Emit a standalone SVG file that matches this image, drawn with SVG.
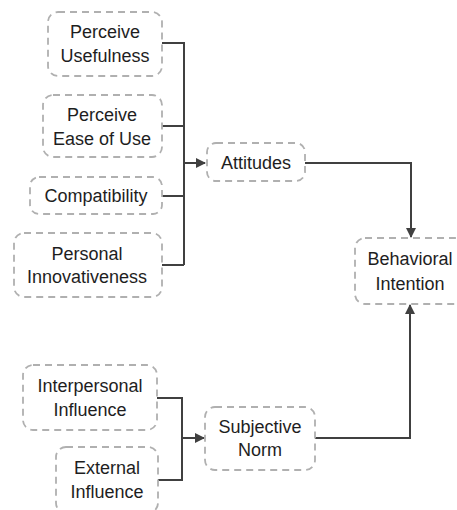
<svg xmlns="http://www.w3.org/2000/svg" width="457" height="510" viewBox="0 0 457 510">
<defs>
<style>
.box{fill:#fff;stroke:#b0b0b0;stroke-width:1.8;stroke-dasharray:7 5}
.t{font-family:"Liberation Sans",Arial,sans-serif;font-size:18px;fill:#1e1e1e;text-anchor:middle;dominant-baseline:central}
.c{fill:none;stroke:#404040;stroke-width:2}
</style>
<marker id="ah" viewBox="0 0 10 10" refX="9" refY="5" markerWidth="5" markerHeight="5" orient="auto" markerUnits="strokeWidth">
<path d="M0,0 L10,5 L0,10 z" fill="#404040"/>
</marker>
</defs>
<rect width="457" height="510" fill="#fff"/>
<g id="connectors">
<path class="c" d="M162,43 H184 V265 M162,126 H184 M162,196 H184 M162,265 H184"/>
<path class="c" d="M184,163 H205" marker-end="url(#ah)"/>
<path class="c" d="M305,163 H411 V237" marker-end="url(#ah)"/>
<path class="c" d="M157,398 H182 V480 H157"/>
<path class="c" d="M182,438 H204" marker-end="url(#ah)"/>
<path class="c" d="M315,438 H410 V305" marker-end="url(#ah)"/>
</g>
<g id="perceive-usefulness">
<rect class="box" x="48" y="12" width="114" height="64" rx="10"/>
<text class="t" x="105" y="32">Perceive</text>
<text class="t" x="105" y="56">Usefulness</text>
</g>
<g id="perceive-ease">
<rect class="box" x="43" y="95" width="119" height="62" rx="10"/>
<text class="t" x="102" y="115">Perceive</text>
<text class="t" x="102" y="139">Ease of Use</text>
</g>
<g id="compatibility">
<rect class="box" x="30" y="177" width="132" height="37" rx="9"/>
<text class="t" x="96" y="196">Compatibility</text>
</g>
<g id="personal-innovativeness">
<rect class="box" x="14" y="233" width="148" height="64" rx="10"/>
<text class="t" x="87" y="254">Personal</text>
<text class="t" x="87" y="277">Innovativeness</text>
</g>
<g id="attitudes">
<rect class="box" x="207" y="143" width="98" height="38" rx="9"/>
<text class="t" x="256" y="163">Attitudes</text>
</g>
<g id="behavioral-intention">
<rect class="box" x="355" y="238" width="110" height="66" rx="10"/>
<text class="t" x="410" y="259">Behavioral</text>
<text class="t" x="410" y="284">Intention</text>
</g>
<g id="interpersonal-influence">
<rect class="box" x="23" y="365" width="134" height="65" rx="10"/>
<text class="t" x="90" y="386">Interpersonal</text>
<text class="t" x="90" y="410">Influence</text>
</g>
<g id="external-influence">
<rect class="box" x="56" y="447" width="102" height="66" rx="10"/>
<text class="t" x="107" y="468">External</text>
<text class="t" x="107" y="492">Influence</text>
</g>
<g id="subjective-norm">
<rect class="box" x="205" y="407" width="110" height="63" rx="10"/>
<text class="t" x="260" y="427">Subjective</text>
<text class="t" x="260" y="450">Norm</text>
</g>
</svg>
